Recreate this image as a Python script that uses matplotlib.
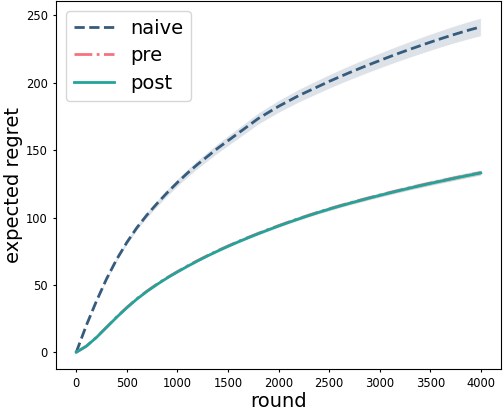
import numpy as np
import matplotlib
matplotlib.use('Agg')
import matplotlib.pyplot as plt

# rounds sampled every 100
rounds = np.arange(0, 4001, 100)

naive = [0, 20, 38, 54.5, 69, 81.5, 92.5, 102, 110.5, 118.5,
         126, 133, 139.5, 145.5, 151.5, 157, 162.5, 168, 173.5, 178,
         182.5, 186.5, 190.5, 194, 197.5, 201, 204.3, 207.5, 210.6, 213.6,
         216.5, 219.4, 222.2, 224.9, 227.5, 230.1, 232.6, 235, 237.3, 239.5,
         241.5]
naive_err = [0, 0.8, 1.2, 1.5, 1.8, 2.0, 2.2, 2.4, 2.6, 2.8,
             3.0, 3.2, 3.4, 3.6, 3.8, 4.0, 4.1, 4.3, 4.4, 4.6,
             4.7, 4.8, 5.0, 5.1, 5.2, 5.3, 5.4, 5.5, 5.6, 5.7,
             5.8, 5.9, 6.0, 6.1, 6.2, 6.3, 6.4, 6.5, 6.6, 6.7,
             6.8]

post = [0, 4.5, 11, 18.5, 26, 33, 39.5, 45.2, 50.4, 55.2,
        59.6, 63.8, 67.8, 71.6, 75.2, 78.6, 81.9, 85, 88, 90.9,
        93.7, 96.4, 99, 101.5, 103.9, 106.2, 108.4, 110.5, 112.5, 114.5,
        116.4, 118.3, 120.1, 121.9, 123.6, 125.3, 126.9, 128.5, 130.1, 131.6,
        133.1]
pre = [0, 4.6, 11.2, 18.7, 26.3, 33.3, 39.8, 45.5, 50.7, 55.5,
       59.9, 64.1, 68.1, 71.9, 75.5, 78.9, 82.2, 85.3, 88.3, 91.2,
       94.0, 96.7, 99.3, 101.8, 104.2, 106.5, 108.7, 110.8, 112.8, 114.8,
       116.7, 118.6, 120.4, 122.2, 123.9, 125.6, 127.2, 128.8, 130.4, 131.9,
       133.4]
post_err = [0, 0.3, 0.4, 0.5, 0.6, 0.7, 0.8, 0.8, 0.9, 0.9,
            1.0, 1.0, 1.1, 1.1, 1.2, 1.2, 1.3, 1.3, 1.3, 1.4,
            1.4, 1.4, 1.5, 1.5, 1.5, 1.6, 1.6, 1.6, 1.7, 1.7,
            1.7, 1.8, 1.8, 1.8, 1.9, 1.9, 1.9, 2.0, 2.0, 2.0,
            2.0]

c_naive = '#355C7D'
c_pre = '#F67280'
c_post = '#23A39A'

naive = np.array(naive)
pre = np.array(pre)
post = np.array(post)
naive_err = np.array(naive_err)
post_err = np.array(post_err)

fig = plt.figure(figsize=(5.04, 4.12), dpi=100)
ax = fig.add_axes([56 / 504, 43 / 412, 445 / 504, 368 / 412])

# confidence bands
ax.fill_between(rounds, naive - naive_err, naive + naive_err,
                facecolor='#dde2e9', edgecolor='white', linewidth=0.6)
ax.fill_between(rounds, pre - post_err, pre + post_err,
                facecolor='#cccccc', edgecolor='white', linewidth=0.4)

ax.plot(rounds, naive, '--', color=c_naive, lw=2.0, label='naive')
ax.plot(rounds, pre, '-.', color=c_pre, lw=2.0, label='pre')
ax.plot(rounds, post, '-', color=c_post, lw=2.0, label='post')

ax.set_xlabel('round', fontsize=14, labelpad=1)
ax.set_ylabel('expected regret', fontsize=14, labelpad=2)
ax.set_xticks([0, 500, 1000, 1500, 2000, 2500, 3000, 3500, 4000])
ax.set_yticks([0, 50, 100, 150, 200, 250])
ax.tick_params(labelsize=8.3, length=2.5)

ax.legend(loc='upper left', fontsize=14, handlelength=2.1,
          borderaxespad=0.5, labelspacing=0.45)

plt.savefig('out.png', dpi=100)
